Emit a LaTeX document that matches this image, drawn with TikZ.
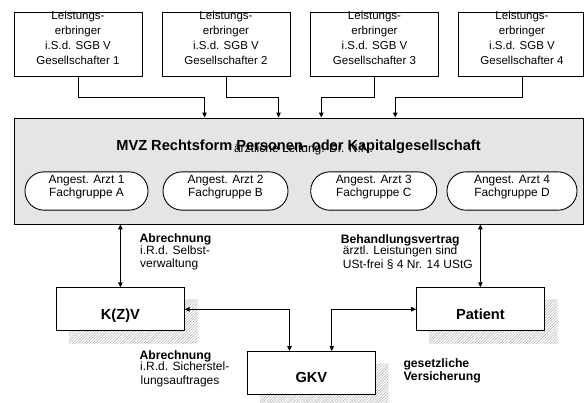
\documentclass[tikz,border=0pt]{standalone}
\usepackage{fontspec}
\setmainfont{Liberation Sans}
\usetikzlibrary{arrows.meta,patterns.meta,calc}
\pgfdeclarelayer{background}
\pgfsetlayers{background,main}
\begin{document}
\begin{tikzpicture}[x=1pt,y=-1pt,
  gbox/.style={draw=black,line width=0.9pt,fill=white,minimum width=128pt,minimum height=63.5pt,inner sep=0pt},
  gtxt/.style={align=center,inner sep=0pt,font=\fontsize{11.5}{15}\selectfont},
  pill/.style={draw=black,line width=0.9pt,fill=white,rounded corners=19pt,minimum height=38.3pt,inner sep=0pt},
  ptxt/.style={align=center,inner sep=0pt,font=\fontsize{11.9}{13}\selectfont},
  lbox/.style={draw=black,line width=0.9pt,fill=white,minimum width=127.5pt,minimum height=43pt,inner sep=0pt},
  ltxt/.style={anchor=base,inner sep=0pt,font=\bfseries\fontsize{14.6}{16}\selectfont},
  lab/.style={anchor=base west,inner sep=0pt,font=\fontsize{12}{14}\selectfont},
  labb/.style={anchor=base west,inner sep=0pt,font=\bfseries\fontsize{12.2}{14}\selectfont},
  conn/.style={line width=0.9pt,-{Triangle[length=5pt,width=4.5pt]}},
  dconn/.style={line width=0.9pt,{Triangle[length=5pt,width=4.5pt]}-{Triangle[length=5pt,width=4.5pt]}},
  hatch/.style={pattern={Lines[angle=45,distance=2pt,line width=0.45pt]},pattern color=gray!70}
]
\useasboundingbox (0,0) rectangle (585,402);

% top boxes
\node[gbox] (g1) at (78,44.25) {};
\node[gbox] (g2) at (226,44.25) {};
\node[gbox] (g3) at (374.5,44.25) {};
\node[gbox,minimum width=125pt] (g4) at (520.5,44.25) {};
\node[gtxt] (g1t) at (78,37.6) {Leistungs-\\erbringer\\i.S.d. SGB V\\Gesellschafter 1};
\node[gtxt] (g2t) at (226,37.6) {Leistungs-\\erbringer\\i.S.d. SGB V\\Gesellschafter 2};
\node[gtxt] (g3t) at (374.5,37.6) {Leistungs-\\erbringer\\i.S.d. SGB V\\Gesellschafter 3};
\node[gtxt] (g4t) at (522,37.6) {Leistungs-\\erbringer\\i.S.d. SGB V\\Gesellschafter 4};

% MVZ
\node[draw=black,line width=0.9pt,fill=gray!20,minimum width=569pt,minimum height=106pt,inner sep=0pt] (mvz) at (298.5,171) {};
\node[anchor=base,inner sep=0pt,font=\bfseries\fontsize{14.6}{16}\selectfont] (title) at (298.5,150.5) {MVZ Rechtsform Personen- oder Kapitalgesellschaft};
\node[anchor=base,inner sep=0pt,font=\fontsize{12}{14}\selectfont] (lead) at (303.5,152.5) {ärztliche Leitung: Dr. N.N.};

\node[pill,minimum width=123pt] (a1) at (86.5,191) {};
\node[pill,minimum width=125pt] (a2) at (225.5,191) {};
\node[pill,minimum width=126pt] (a3) at (373.7,191) {};
\node[pill,minimum width=130pt] (a4) at (512,191) {};
\node[ptxt] (a1t) at (86.5,187.3) {Angest. Arzt 1\\Fachgruppe A};
\node[ptxt] (a2t) at (225.5,187.3) {Angest. Arzt 2\\Fachgruppe B};
\node[ptxt] (a3t) at (373.7,187.3) {Angest. Arzt 3\\Fachgruppe C};
\node[ptxt] (a4t) at (512,187.3) {Angest. Arzt 4\\Fachgruppe D};

% top connectors
\coordinate (in1) at ([xshift=191pt]mvz.north west);
\coordinate (in2) at ([xshift=265pt]mvz.north west);
\coordinate (in3) at ([xshift=307.7pt]mvz.north west);
\coordinate (in4) at ([xshift=381.7pt]mvz.north west);
\draw[conn] (g1.south) -- ++(0,20.7) -| (in1);
\draw[conn] (g2.south) -- ++(0,20.7) -| (in2);
\draw[conn] (g3.south) -- ++(0,20.7) -| (in3);
\draw[conn] ([xshift=2pt]g4.south) -- ++(0,20.7) -| (in4);

% lower boxes
\node[lbox] (kzv) at (120.4,309.3) {};
\node[lbox] (gkv) at (311.4,373) {};
\node[lbox] (pat) at (480.4,309.2) {};
\node[ltxt] (kzvt) at (120.4,319.5) {K(Z)V};
\node[ltxt] (gkvt) at (311.4,382.5) {GKV};
\node[ltxt] (patt) at (480.4,319.3) {Patient};

\begin{pgfonlayer}{background}
\fill[hatch] ($(kzv.north west)+(13,12.3)$) rectangle ($(kzv.south east)+(13,12.3)$);
\fill[hatch] ($(gkv.north west)+(13,12.3)$) rectangle ($(gkv.south east)+(13,12.3)$);
\fill[hatch] ($(pat.north west)+(13,12.3)$) rectangle ($(pat.south east)+(13,12.3)$);
\end{pgfonlayer}

% lower connectors
\draw[dconn] (kzv.north |- mvz.south) -- (kzv.north);
\draw[dconn] (pat.north |- mvz.south) -- (pat.north);
\coordinate (gin1) at ([xshift=42.3pt]gkv.north west);
\coordinate (gin2) at ([xshift=84.6pt]gkv.north west);
\draw[dconn] (kzv.east) -| (gin1);
\draw[dconn] (pat.west) -| (gin2);

% labels
\node[labb] (l1) at (139.3,242.7) {Abrechnung};
\node[lab] (l2) at (140,254) {i.R.d. Selbst-};
\node[lab] (l3) at (140,267.5) {verwaltung};
\node[labb] (l4) at (139.3,359.5) {Abrechnung};
\node[lab] (l5) at (140,370.5) {i.R.d. Sicherstel-};
\node[lab] (l6) at (140.5,384) {lungsauftrages};
\node[labb] (l7) at (340.7,243) {Behandlungsvertrag};
\node[lab] (l8) at (342.7,254) {ärztl. Leistungen sind};
\node[lab] (l9) at (342.7,268.5) {USt-frei § 4 Nr. 14 UStG};
\node[labb] (l10) at (403.3,367) {gesetzliche};
\node[labb] (l11) at (403.3,380.3) {Versicherung};
\end{tikzpicture}
\end{document}
